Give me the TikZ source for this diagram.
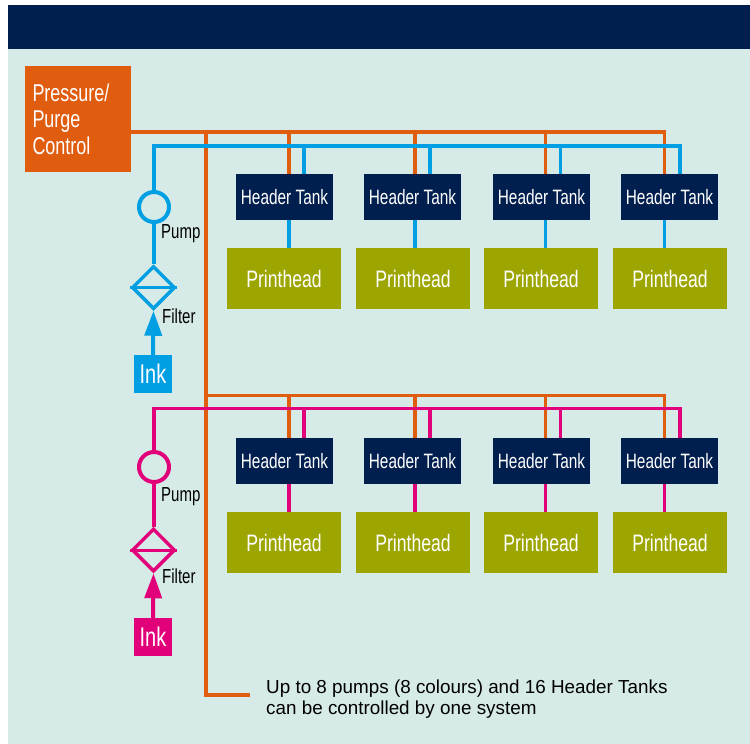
\documentclass[tikz,border=0pt]{standalone}
\usepackage{fontspec}
\setmainfont{Liberation Sans}
\newfontfamily\narrowfont[FakeStretch=0.74]{Liberation Sans}
\usetikzlibrary{arrows.meta,shapes.geometric}
\definecolor{navybar}{HTML}{001E4E}
\definecolor{panelbg}{HTML}{D6EBE7}
\definecolor{ctrlorange}{HTML}{E05C0F}
\definecolor{inkblue}{HTML}{009FE3}
\definecolor{inkpink}{HTML}{E2007A}
\definecolor{headolive}{HTML}{9DA500}
\tikzset{%
  textbox/.style={shape=rectangle,inner sep=0,text=white,font=\narrowfont},
  ctrlbox/.style={textbox,fill=ctrlorange,minimum width=106,minimum height=106,font=\narrowfont\fontsize{24.3}{26.5}\selectfont},
  tankbox/.style={textbox,fill=navybar,minimum width=97,minimum height=46,font=\narrowfont\fontsize{20.8}{22}\selectfont},
  headbox/.style={textbox,fill=headolive,minimum width=114,minimum height=61,font=\narrowfont\fontsize{23.8}{26}\selectfont},
  inkbox/.style={textbox,minimum width=38,minimum height=38,font=\narrowfont\fontsize{27}{30}\selectfont},
  pumpdot/.style={draw,shape=circle,inner sep=0,minimum size=30,line width=4},
  filterdia/.style={draw,shape=diamond,aspect=1,inner sep=0,minimum width=43,minimum height=43,line width=3.5},
  partlabel/.style={inner sep=0,anchor=west,font=\narrowfont\fontsize{20.3}{22}\selectfont},
  airline/.style={draw=ctrlorange,line width=3.2},
  inkline/.style={line width=3.2},
  feedline/.style={line width=4},
  feedarrow/.style={line width=4,-{Triangle[length=25,width=17]}}
}
\begin{document}
\begin{tikzpicture}[x=1pt,y=-1pt]
    \useasboundingbox (0,0) rectangle (750,744);
    \fill[panelbg] (8,49) rectangle (750,744);
    \fill[navybar] (8,5) rectangle (750,49);
    \node (ctrl)[ctrlbox,text width=91,align=left] at (78,119) {Pressure/\\Purge\\Control};
    \coordinate (trunktop) at (206,132);
    \coordinate (trunkmid) at (206,395.5);
    \coordinate (trunkend) at (206,695);
    \node (note)[inner sep=0,anchor=west,align=left,font=\fontsize{18.85}{21}\selectfont] at (266,699)
      {Up to 8 pumps (8 colours) and 16 Header Tanks\\can be controlled by one system};
    \coordinate (noteend) at (250,695);
    % the two rows: letter, tank y, head y, air y, ink y, colour, pump y, filter y, block y
    \foreach \r/\ty/\hy/\oy/\iy/\col/\py/\fy/\ky in {a/197/278.5/132/146/inkblue/207/287.5/374,b/461/542.5/395.5/408.5/inkpink/467/550/637} {
      \foreach \n/\tx/\hx/\ox/\ix in {1/284.5/284/289/304,2/412.5/413/415/430,3/541.5/541/545.5/560.5,4/669.5/670/664.5/680} {
        \node (tank\n\r)[tankbox] at (\tx,\ty) {Header Tank};
        \node (head\n\r)[headbox] at (\hx,\hy) {Printhead};
        \coordinate (air\n\r) at (\ox,\oy);
        \coordinate (feed\n\r) at (\ix,\iy);
      }
      \node (pump\r)[pumpdot,draw=\col] at (154,\py) {};
      \node (filter\r)[filterdia,draw=\col] at (153.5,\fy) {};
      \node (ink\r)[inkbox,fill=\col] at (153,\ky) {Ink};
    }
    \node (pumplabela)[partlabel] at (161,233.5) {Pump};
    \node (filterlabela)[partlabel] at (162,316.5) {Filter};
    \node (pumplabelb)[partlabel] at (161,496.5) {Pump};
    \node (filterlabelb)[partlabel] at (162,576.5) {Filter};
    % air lines go under the ink lines
    \draw[airline] (ctrl.east |- trunktop) -- (air4a) -- (air4a |- tank4a.north);
    \draw[airline] (trunktop) -- (trunkend) -- (noteend);
    \draw[airline] (trunkmid) -- (air4b) -- (air4b |- tank4b.north);
    \foreach \r in {a,b} {
      \foreach \n in {1,2,3} {
        \draw[airline] (air\n\r) -- (air\n\r |- tank\n\r.north);
      }
    }
    \foreach \r/\col in {a/inkblue,b/inkpink} {
      \draw[inkline,draw=\col] (pump\r.north) |- (feed4\r) -- (feed4\r |- tank4\r.north);
      \draw[feedline,draw=\col] (pump\r.north) -- (pump\r.north |- feed4\r);
      \draw[feedline,draw=\col] (pump\r.south) -- (pump\r.south |- filter\r.north);
      \draw[line width=3,draw=\col] (filter\r.west) -- (filter\r.east);
      \draw[feedarrow,draw=\col,fill=\col] (ink\r.north) -- (filter\r.south);
      \foreach \n in {1,2,3} {
        \draw[inkline,draw=\col] (feed\n\r) -- (feed\n\r |- tank\n\r.north);
      }
      \foreach \n in {1,2,3,4} {
        \draw[inkline,draw=\col] (air\n\r |- tank\n\r.south) -- (air\n\r |- head\n\r.north);
      }
    }
  \end{tikzpicture}
\end{document}
